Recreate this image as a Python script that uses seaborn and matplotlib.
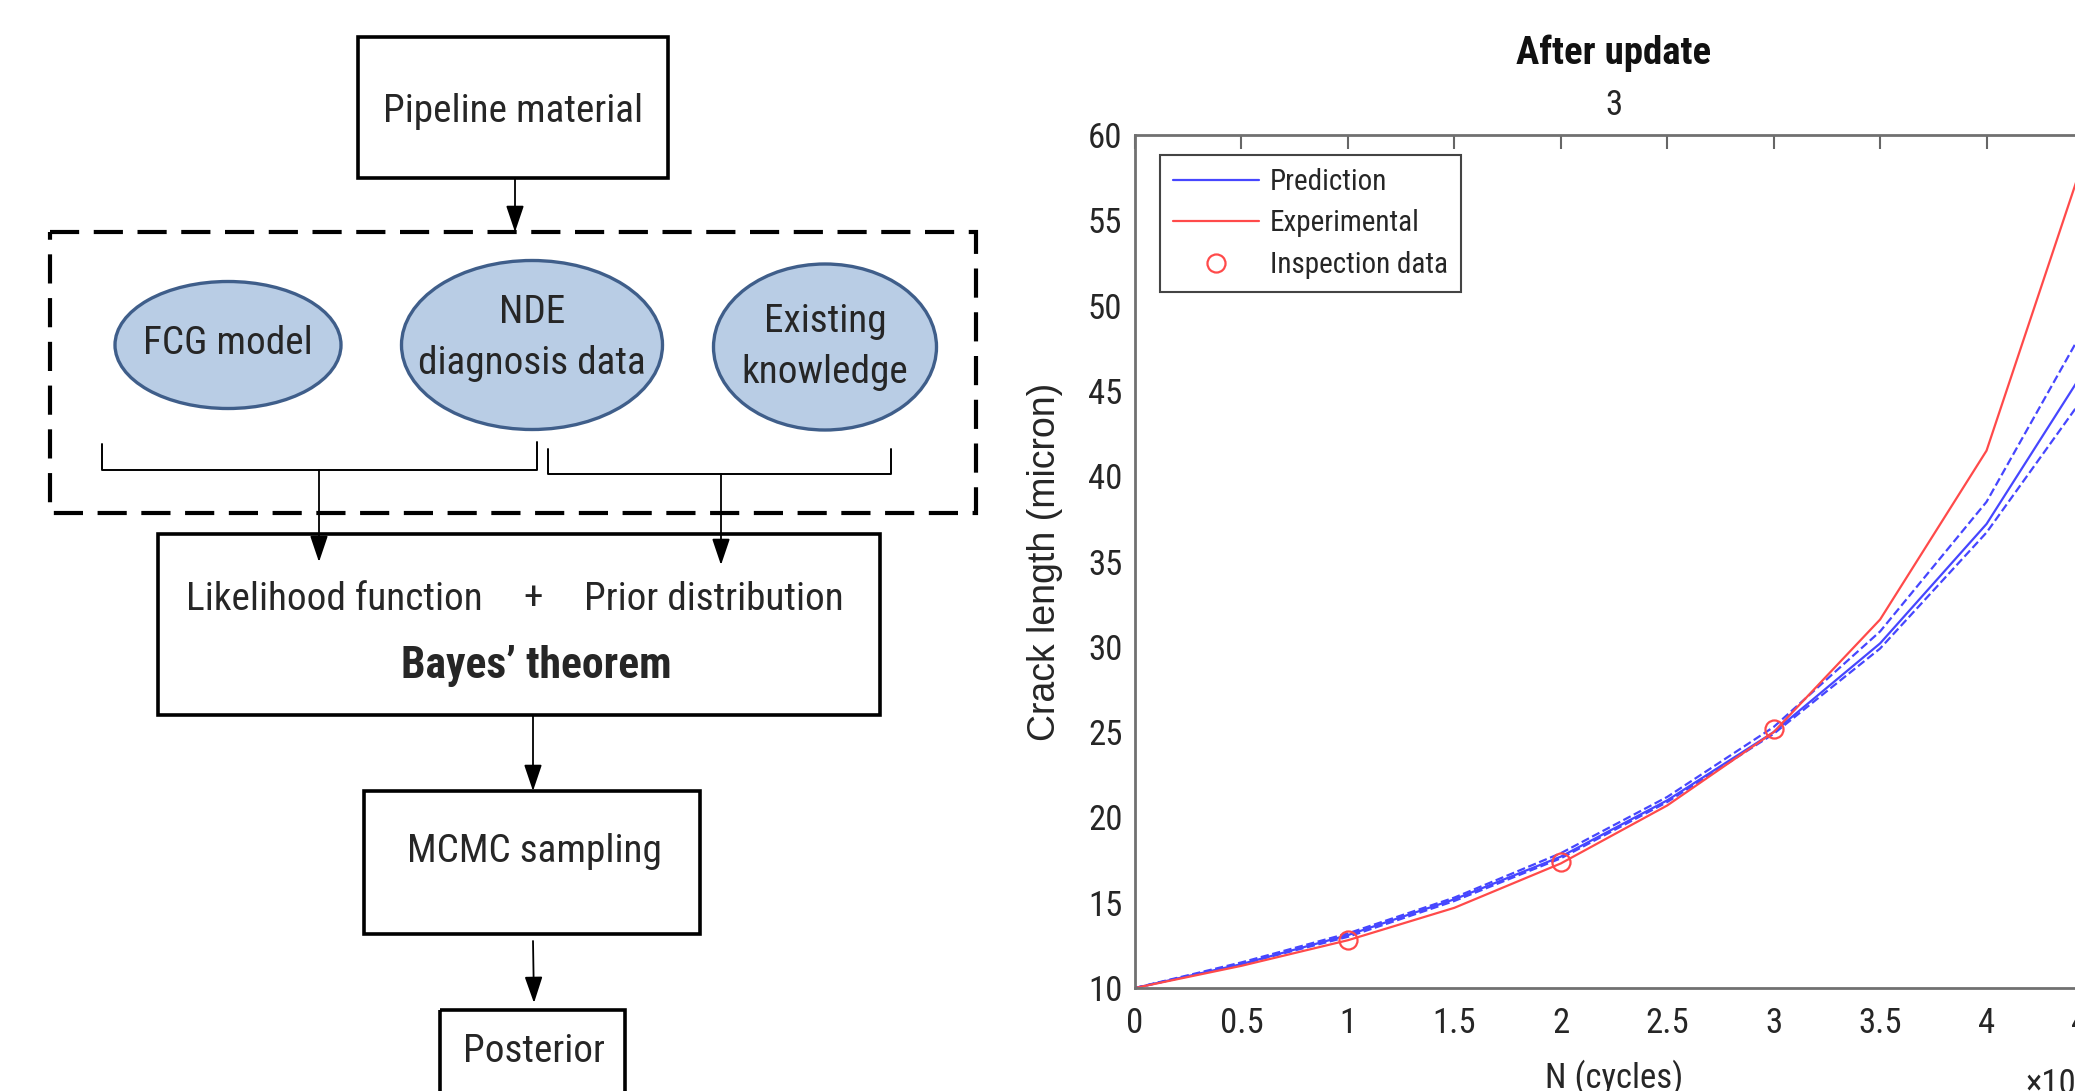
import matplotlib
matplotlib.use("Agg")
import matplotlib.pyplot as plt
import seaborn as sns
from matplotlib import font_manager
from matplotlib.patches import Rectangle, Ellipse

# ---- crack growth data (N in units of 1e4 cycles) ----
n_cycles = [0, 0.5, 1, 1.5, 2, 2.5, 3, 3.5, 4, 4.5]
pred_mean = [10, 11.4, 13.1, 15.2, 17.7, 21.0, 25.0, 30.2, 37.2, 47.0]
pred_upper = [10, 11.5, 13.2, 15.3, 17.9, 21.2, 25.3, 30.9, 38.5, 49.6]
pred_lower = [10, 11.4, 13.0, 15.1, 17.6, 20.9, 24.9, 29.9, 36.7, 45.4]
exp_crack = [10, 11.3, 12.8, 14.7, 17.3, 20.7, 25.0, 31.6, 41.5, 60.2]
insp_n = [1, 2, 3]
insp_crack = [12.8, 17.4, 25.2]

x_ticks = [0, 0.5, 1, 1.5, 2, 2.5, 3, 3.5, 4, 4.5]
x_tick_labels = ['0', '0.5', '1', '1.5', '2', '2.5', '3', '3.5', '4', '4.5']
y_ticks = [10, 15, 20, 25, 30, 35, 40, 45, 50, 55, 60]
y_tick_labels = ['10', '15', '20', '25', '30', '35', '40', '45', '50', '55', '60']

# ---- flowchart text ----
pipe_label = 'Pipeline material'
ellipse_labels = ['FCG model', 'NDE\ndiagnosis data', 'Existing\nknowledge']
like_label = 'Likelihood function'
plus_label = '+'
prior_label = 'Prior distribution'
bayes_label = 'Bayes\u2019 theorem'
mcmc_label = 'MCMC sampling'
post_label = 'Posterior'

sns.set_style('white')


def pick_font():
    # the source text looks squeezed, so prefer a narrow face when one exists
    fl = font_manager.fontManager.ttflist
    names = {f.name for f in fl}
    for nm in ['Roboto Condensed', 'Liberation Sans Narrow', 'Open Sans Condensed']:
        if nm in names:
            return nm, 'normal', 1.0
    for nm in ['Noto Sans', 'DejaVu Sans', 'Open Sans', 'Roboto']:
        for f in fl:
            if f.name == nm and str(f.stretch) in ('condensed', 'semi-condensed', 'extra-condensed'):
                return nm, 'condensed', 1.0
    return 'Liberation Sans', 'normal', 0.86


narrow, stretch, fscale = pick_font()
plt.rcParams['font.family'] = [narrow, 'DejaVu Sans']
plt.rcParams['font.stretch'] = stretch

W, H = 2075, 1091
fig = plt.figure(figsize=(W / 100, H / 100), dpi=100)
fig.patch.set_facecolor('white')

# ---------------- flowchart (pixel coords) ----------------
dax = fig.add_axes([0, 0, 1, 1])
dax.set_xlim(0, W)
dax.set_ylim(H, 0)
dax.axis('off')

fs = 28.3 * fscale
rects = [(358, 37, 668, 178), (158, 534, 880, 715), (364, 791, 700, 934), (440, 1010, 625, 1120)]
for x0, y0, x1, y1 in rects:
    dax.add_patch(Rectangle((x0, y0), x1 - x0, y1 - y0, fill=False, lw=2.6, ec='black'))

dax.add_patch(Rectangle((50, 232), 926, 281, fill=False, lw=3, ec='black',
                        linestyle=(0, (7, 3.5))))

ell_pos = [(228, 345, 226, 127), (532, 345, 261, 169), (825, 347, 223, 166)]
ell_text_y = [343, 338, 347]
for (cx, cy, w, h), lab, ty in zip(ell_pos, ellipse_labels, ell_text_y):
    dax.add_patch(Ellipse((cx, cy), w, h, fc='#b9cde5', ec='#3f5e8a', lw=2.4))
    dax.text(cx, ty, lab, ha='center', va='center', fontsize=fs, linespacing=1.45)

# braces under the ellipses
dax.plot([102, 102, 537, 537], [444, 470, 470, 442], color='black', lw=1.4)
dax.plot([548, 548, 891, 891], [449, 474, 474, 449], color='black', lw=1.4)

arrows = [((515, 178), (515, 232)), ((319, 470), (319, 562)), ((721, 474), (721, 565)),
          ((533, 715), (533, 791)), ((533, 941), (534, 1003))]
for start, tip in arrows:
    dax.annotate('', xy=tip, xytext=start,
                 arrowprops=dict(arrowstyle='-|>,head_length=0.65,head_width=0.22',
                                 lw=1.3, color='black', shrinkA=0, shrinkB=0,
                                 mutation_scale=25))

dax.text(513, 112, pipe_label, ha='center', va='center', fontsize=fs)
dax.text(334, 599, like_label, ha='center', va='center', fontsize=fs)
dax.text(533, 599, plus_label, ha='center', va='center', fontsize=fs)
dax.text(714, 599, prior_label, ha='center', va='center', fontsize=fs)
dax.text(536, 666, bayes_label, ha='center', va='center', fontsize=31.5 * fscale, fontweight='bold')
dax.text(534, 851, mcmc_label, ha='center', va='center', fontsize=fs)
dax.text(534, 1052, post_label, ha='center', va='center', fontsize=fs)

# ---------------- crack growth chart ----------------
blue = '#4646ff'
red = '#ff4a4a'
ax = fig.add_axes([1135 / W, 1 - 988 / H, (2093 - 1135) / W, (988 - 135) / H])

sns.lineplot(x=n_cycles, y=pred_mean, ax=ax, color=blue, lw=1.6, label='Prediction')
sns.lineplot(x=n_cycles, y=pred_upper, ax=ax, color=blue, lw=1.6, linestyle='--')
sns.lineplot(x=n_cycles, y=pred_lower, ax=ax, color=blue, lw=1.6, linestyle='--')
sns.lineplot(x=n_cycles, y=exp_crack, ax=ax, color=red, lw=1.6, label='Experimental')
sns.lineplot(x=insp_n, y=insp_crack, ax=ax, color=red, marker='o', linestyle='none',
             markersize=13, markerfacecolor='none', markeredgecolor=red,
             markeredgewidth=1.6, label='Inspection data')

ax.set_xlim(0, 4.5)
ax.set_ylim(10, 60)
ax.set_xticks(x_ticks)
ax.set_xticklabels(x_tick_labels)
ax.set_yticks(y_ticks)
ax.set_yticklabels(y_tick_labels)
ax.tick_params(direction='in', length=10, width=1.5, top=True, right=True,
               color='#666666', labelcolor='#262626', labelsize=25 * fscale)
ax.tick_params(axis='x', pad=14)
ax.tick_params(axis='y', pad=9)
for sp in ax.spines.values():
    sp.set_color('#707070')
    sp.set_linewidth(2)

ax.set_xlabel('N (cycles)', fontsize=25 * fscale, color='#262626')
ax.xaxis.set_label_coords(0.5, -0.084)
ax.set_ylabel('Crack length (micron)', fontsize=27, color='#262626',
              family=['Liberation Sans', 'DejaVu Sans'], stretch='normal')
ax.yaxis.set_label_coords(-0.075, 0.5)

ax.text(0.5, 1.096, 'After update', transform=ax.transAxes, ha='center', va='center',
        fontsize=28 * fscale, fontweight='bold', color='#111111')
ax.text(0.5, 1.034, '3', transform=ax.transAxes, ha='center', va='center',
        fontsize=25 * fscale, color='#262626')
# exponent label, sits at the far right below the tick labels (cut by the frame edge)
ax.text(0.929, -0.094, '\u00d710\u2074', transform=ax.transAxes, ha='left', va='top',
        fontsize=25 * fscale, color='#262626')

leg_fs = 21 * fscale
leg_px = leg_fs * 100 / 72
leg_space = (40.8 - 0.93 * leg_px) / leg_px
handles = [ax.lines[0], ax.lines[3], ax.lines[4]]
leg = ax.legend(handles=handles, labels=['Prediction', 'Experimental', 'Inspection data'],
                loc='upper left', bbox_to_anchor=(0.026, 0.977), borderaxespad=0,
                fontsize=leg_fs, frameon=True, fancybox=False, framealpha=1,
                edgecolor='#444444', handlelength=2.95, handletextpad=0.36,
                borderpad=0.45, labelspacing=leg_space)
leg.get_frame().set_linewidth(1.5)

fig.savefig('out.png', dpi=100, facecolor='white')
